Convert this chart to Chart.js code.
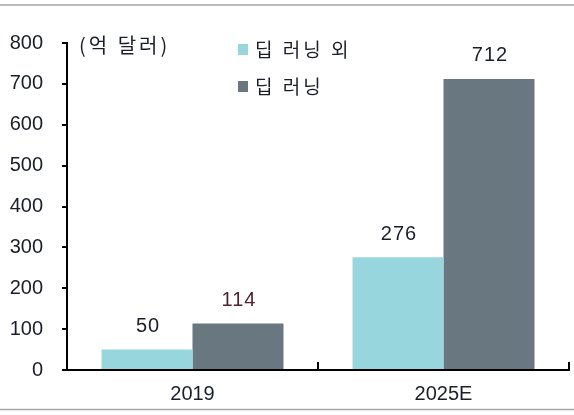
<!DOCTYPE html>
<html>
<head>
<meta charset="utf-8">
<script src="https://cdn.jsdelivr.net/npm/chart.js@4"></script>
<style>
  html, body { margin: 0; padding: 0; background: #fff; }
  #wrap { width: 574px; height: 415px; position: relative; }
</style>
</head>
<body>
<div id="wrap"><canvas id="chart"></canvas></div>
<script>
const categories = ["2019", "2025E"];
const seriesNames = ["딥 러닝 외", "딥 러닝"];
const otherValues = [50, 276];
const deepValues = [114, 712];
const yTicks = [0, 100, 200, 300, 400, 500, 600, 700, 800];
const unitLabel = "(억 달러)";

const FONT = "'Liberation Sans', 'Noto Sans CJK KR', sans-serif";
const KFONT = "'Noto Sans CJK KR', sans-serif";
const TEXT = "#1b1e2a";

// frame lines, unit label, legend, value labels and inward x ticks
const extras = {
  id: "extras",
  afterDraw(chart) {
    const { ctx, scales } = chart;
    const x = scales.x, y = scales.y;
    ctx.save();

    ctx.strokeStyle = "#a3a7ab";
    ctx.lineWidth = 1.5;
    ctx.beginPath();
    ctx.moveTo(0, 5); ctx.lineTo(574, 5);
    ctx.moveTo(0, 409.5); ctx.lineTo(574, 409.5);
    ctx.stroke();

    // x-axis ticks pointing up, at category boundaries
    ctx.strokeStyle = "#000";
    ctx.lineWidth = 2;
    ctx.beginPath();
    for (let i = 0; i < categories.length; i++) {
      const bx = i < categories.length - 1
        ? (x.getPixelForTick(i) + x.getPixelForTick(i + 1)) / 2
        : x.right;
      ctx.moveTo(bx, y.bottom);
      ctx.lineTo(bx, y.bottom - 8);
    }
    ctx.stroke();

    ctx.fillStyle = TEXT;
    ctx.font = "20px " + KFONT;
    ctx.letterSpacing = "3px";
    ctx.textAlign = "left";
    ctx.textBaseline = "middle";
    ctx.fillText(unitLabel, 79, 45);

    // legend
    const legendY = [50, 87];
    ctx.letterSpacing = "3px";
    chart.data.datasets.forEach((ds, i) => {
      ctx.fillStyle = ds.backgroundColor;
      ctx.fillRect(238, legendY[i] - 6, 10, 11);
      ctx.fillStyle = TEXT;
      ctx.font = "19px " + KFONT;
      ctx.fillText(ds.label, 255, legendY[i]);
    });

    // value labels
    ctx.font = "20px " + FONT;
    ctx.letterSpacing = "1px";
    ctx.textAlign = "center";
    const labelColors = [[TEXT, TEXT], ["#4d2231", TEXT]];
    chart.data.datasets.forEach((ds, di) => {
      const meta = chart.getDatasetMeta(di);
      meta.data.forEach((bar, i) => {
        ctx.fillStyle = labelColors[di][i];
        ctx.fillText(String(ds.data[i]), bar.x + 1, bar.y - 23);
      });
    });
    ctx.restore();
  }
};

new Chart(document.getElementById("chart"), {
  type: "bar",
  data: {
    labels: categories,
    datasets: [
      {
        label: seriesNames[0],
        data: otherValues,
        backgroundColor: "#97d6dc",
        categoryPercentage: 0.725,
        barPercentage: 1.0,
      },
      {
        label: seriesNames[1],
        data: deepValues,
        backgroundColor: "#687780",
        categoryPercentage: 0.725,
        barPercentage: 1.0,
      },
    ],
  },
  options: {
    responsive: true,
    maintainAspectRatio: false,
    animation: false,
    devicePixelRatio: 1,
    layout: { padding: { top: 43, right: 5, left: 0, bottom: 0 } },
    plugins: {
      legend: { display: false },
      tooltip: { enabled: false },
    },
    scales: {
      x: {
        grid: { display: false },
        border: { display: true, color: "#000", width: 2 },
        ticks: { color: TEXT, font: { size: 20, family: FONT }, padding: 4 },
        afterFit: (s) => { s.height = 45; },
      },
      y: {
        min: 0,
        max: 800,
        afterBuildTicks: (s) => { s.ticks = yTicks.map((v) => ({ value: v })); },
        grid: {
          drawOnChartArea: false,
          drawTicks: true,
          tickLength: 5,
          color: "#000",
          lineWidth: 2,
        },
        border: { display: true, color: "#000", width: 2 },
        ticks: { color: TEXT, font: { size: 20, family: FONT }, padding: 19 },
        afterFit: (s) => { s.width = 67; },
      },
    },
  },
  plugins: [extras],
});
</script>
</body>
</html>
